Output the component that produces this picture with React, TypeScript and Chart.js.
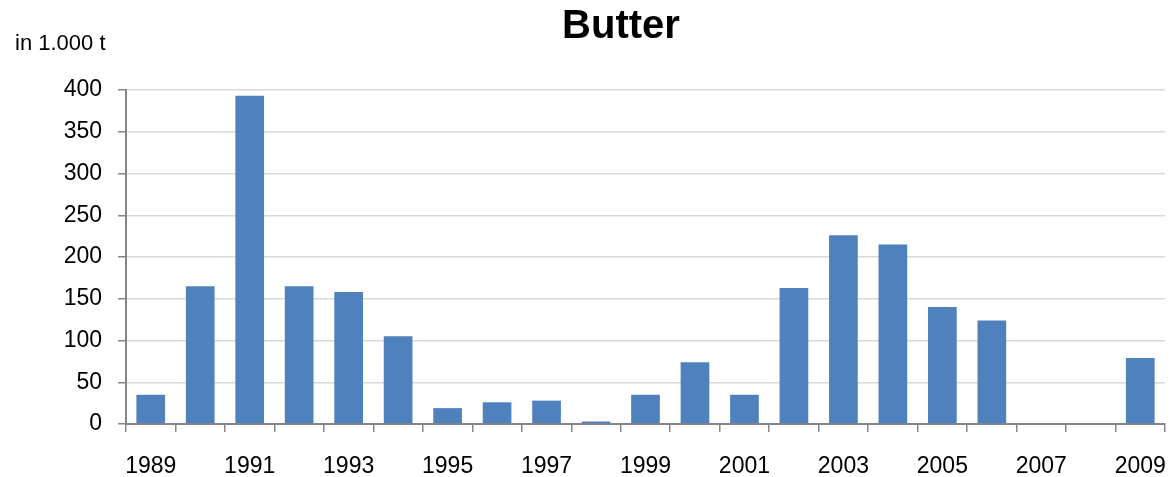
import React, { useEffect, useRef } from "react";
import { Chart, registerables } from "chart.js";

Chart.register(...registerables);

const years: string[] = [
  "1989", "1990", "1991", "1992", "1993", "1994", "1995", "1996", "1997", "1998", "1999",
  "2000", "2001", "2002", "2003", "2004", "2005", "2006", "2007", "2008", "2009",
];
const butter: number[] = [35, 165, 393, 165, 158, 105, 19, 26, 28, 3, 35, 74, 35, 163, 226, 215, 140, 124, 0, 0, 79];
const titleText = "Butter";
const unitText = "in 1.000 t";

const FONT = "'Liberation Sans', Arial, sans-serif";

const textPlugin = {
  id: "texts",
  afterDraw(chart: any) {
    const ctx = chart.ctx;
    ctx.save();
    ctx.fillStyle = "#000";
    ctx.font = `bold 40px ${FONT}`;
    ctx.textAlign = "center";
    ctx.textBaseline = "middle";
    ctx.fillText(titleText, 621, 27);
    ctx.font = `22px ${FONT}`;
    ctx.textAlign = "left";
    ctx.fillText(unitText, 15, 44);
    ctx.restore();
  },
};

export default function App() {
  const ref = useRef<HTMLCanvasElement | null>(null);
  useEffect(() => {
    document.body.style.margin = "0";
    const chart = new Chart(ref.current!, {
      type: "bar",
      data: {
        labels: years,
        datasets: [
          {
            data: butter,
            backgroundColor: "#4F81BD",
            borderWidth: 0,
            barPercentage: 0.58,
            categoryPercentage: 1,
          },
        ],
      },
      options: {
        animation: false,
        responsive: false,
        maintainAspectRatio: false,
        layout: { padding: { top: 90, right: 6, left: 0, bottom: 0 } },
        plugins: { legend: { display: false }, title: { display: false }, tooltip: { enabled: false } },
        scales: {
          x: {
            offset: true,
            afterFit: (s: any) => {
              s.height = 53;
              s.paddingRight = 0;
              s.paddingLeft = 0;
            },
            grid: {
              offset: true,
              drawOnChartArea: false,
              drawTicks: true,
              tickLength: 8,
              color: "#868686",
              lineWidth: 1.5,
            },
            border: { color: "#868686", width: 2 },
            ticks: {
              autoSkip: false,
              maxRotation: 0,
              padding: 21,
              color: "#000",
              font: { family: FONT, size: 23 },
              callback: (v: any, i: number) => (i % 2 === 0 ? years[i] : ""),
            },
          },
          y: {
            min: 0,
            max: 400,
            afterFit: (s: any) => {
              s.width = 126;
            },
            grid: {
              color: "#D9D9D9",
              lineWidth: 1.5,
              tickLength: 8,
              tickColor: "#868686",
            },
            border: { color: "#868686", width: 2 },
            ticks: {
              stepSize: 50,
              padding: 16,
              color: "#000",
              font: { family: FONT, size: 23 },
            },
          },
        },
      },
      plugins: [textPlugin],
    });
    return () => chart.destroy();
  }, []);
  return (
    <div style={{ position: "absolute", left: 0, top: 0, width: 1171, height: 477, background: "#fff" }}>
      <canvas ref={ref} width={1171} height={477} style={{ width: 1171, height: 477 }} />
    </div>
  );
}
